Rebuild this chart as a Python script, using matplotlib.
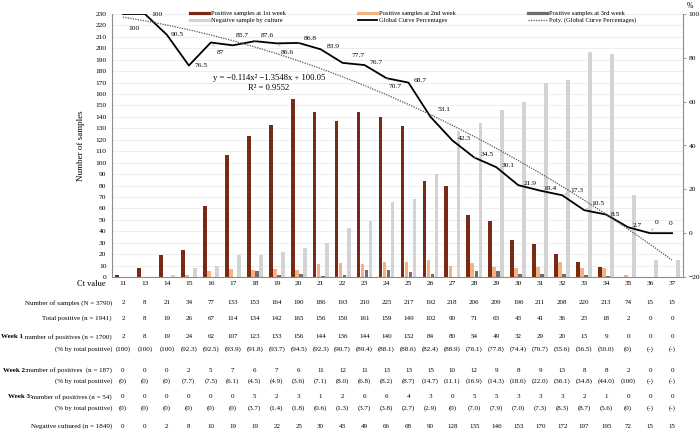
import numpy as np
import matplotlib.pyplot as plt
import matplotlib.transforms as mtransforms
from matplotlib.lines import Line2D

plt.rcParams['font.family'] = ['Liberation Serif', 'DejaVu Serif']

ct = [11, 13, 14, 15, 16, 17, 18, 19, 20, 21, 22, 23, 24, 25, 26, 27, 28, 29,
      30, 31, 32, 33, 34, 35, 36, 37]
n_samples = [2, 8, 21, 34, 77, 133, 153, 164, 190, 186, 193, 210, 225, 217,
             192, 218, 206, 209, 196, 211, 208, 220, 213, 74, 15, 15]
total_pos = [2, 8, 19, 26, 67, 114, 134, 142, 165, 156, 150, 161, 159, 149,
             102, 90, 71, 63, 43, 41, 36, 23, 18, 2, 0, 0]
week1 = [2, 8, 19, 24, 62, 107, 123, 133, 156, 144, 136, 144, 140, 132, 84,
         80, 54, 49, 32, 29, 20, 13, 9, 0, 0, 0]
week1_pct = ['(100)', '(100)', '(100)', '(92.3)', '(92.5)', '(93.9)', '(91.8)',
             '(93.7)', '(94.5)', '(92.3)', '(90.7)', '(89.4)', '(88.1)', '(88.6)',
             '(82.4)', '(88.9)', '(76.1)', '(77.8)', '(74.4)', '(70.7)', '(55.6)',
             '(56.5)', '(50.0)', '(0)', '(-)', '(-)']
week2 = [0, 0, 0, 2, 5, 7, 6, 7, 6, 11, 12, 11, 13, 13, 15, 10, 12, 9, 8, 9,
         13, 8, 8, 2, 0, 0]
week2_pct = ['(0)', '(0)', '(0)', '(7.7)', '(7.5)', '(6.1)', '(4.5)', '(4.9)',
             '(3.6)', '(7.1)', '(8.0)', '(6.8)', '(8.2)', '(8.7)', '(14.7)',
             '(11.1)', '(16.9)', '(14.3)', '(18.6)', '(22.0)', '(36.1)', '(34.8)',
             '(44.0)', '(100)', '(-)', '(-)']
week3 = [0, 0, 0, 0, 0, 0, 5, 2, 3, 1, 2, 6, 6, 4, 3, 0, 5, 5, 3, 3, 3, 2, 1,
         0, 0, 0]
week3_pct = ['(0)', '(0)', '(0)', '(0)', '(0)', '(0)', '(3.7)', '(1.4)', '(1.8)',
             '(0.6)', '(1.3)', '(3.7)', '(3.8)', '(2.7)', '(2.9)', '(0)', '(7.0)',
             '(7.9)', '(7.0)', '(7.3)', '(8.3)', '(8.7)', '(5.6)', '(0)', '(-)', '(-)']
negative = [0, 0, 2, 8, 10, 19, 19, 22, 25, 30, 43, 49, 66, 68, 90, 128, 135,
            146, 153, 170, 172, 197, 195, 72, 15, 15]
global_pct = [100, 100, 90.5, 76.5, 87, 85.7, 87.6, 86.6, 86.8, 83.9, 77.7,
              76.7, 70.7, 68.7, 53.1, 42.3, 34.5, 30.1, 21.9, 19.4, 17.3, 10.5,
              8.5, 2.7, 0, 0]

brown = '#7a2a14'
orange = '#f4b183'
dgray = '#6e6e6e'
lgray = '#d3d3d3'

W, H = 700, 434
fig = plt.figure(figsize=(W / 100, H / 100), dpi=100)
ax = fig.add_axes([112 / W, 1 - 277 / H, 571 / W, 263 / H])

x = np.arange(len(ct))
bw = 0.17
ax.bar(x - 0.275, week1, bw, color=brown)
ax.bar(x - 0.092, week2, bw, color=orange)
ax.bar(x + 0.092, week3, bw, color=dgray)
ax.bar(x + 0.275, negative, bw, color=lgray)

ax.set_xlim(-0.5, len(ct) - 0.5)
ax.set_ylim(0, 230)
ax.set_yticks(range(0, 231, 10))
ax.set_xticks(x)
ax.set_xticklabels(ct)
ax.tick_params(axis='y', length=0, pad=4, labelsize=5.4)
ax.tick_params(axis='x', length=0, pad=3, labelsize=5.4)
ax.grid(axis='y', color='#ebebeb', lw=0.6)
ax.set_axisbelow(True)
ax.set_ylabel('Number of samples', fontsize=6.5)
ax.yaxis.set_label_coords(-0.047, 0.5)
for s in ['top', 'right']:
    ax.spines[s].set_visible(False)
for s in ['left', 'bottom']:
    ax.spines[s].set_color('#8c8c8c')
    ax.spines[s].set_linewidth(0.8)

# right axis: percentages
ax2 = ax.twinx()
ax2.set_ylim(-20, 100)
ax2.set_yticks(range(-20, 101, 20))
ax2.tick_params(axis='y', length=2.5, width=0.6, pad=1.5, labelsize=5.4,
                color='#8c8c8c')
for s in ['top', 'left', 'bottom']:
    ax2.spines[s].set_visible(False)
ax2.spines['right'].set_color('#8c8c8c')
ax2.spines['right'].set_linewidth(0.8)

ax2.plot(x, global_pct, color='black', lw=1.3)
coef = np.polyfit(x + 1, global_pct, 2)
ax2.plot(x, np.polyval(coef, x + 1), color='#555555', lw=0.9, ls=(0, (1, 1)))

# data labels (offsets in pixels)
offs = [(11, -14), (12, 0), (10, 0), (12, 0), (10, -10), (10, 10), (13, 6),
        (11, -9), (12, 4), (13, 3), (15, 7), (12, 3), (9, -8), (12, 2),
        (14, 7), (12, 2), (13, 3), (12, 2), (12, 2), (10, 2), (15, 5),
        (14, 7), (9, 0), (9, 2), (7, 11), (-1, 10)]
leaders = {4, 6, 7, 8, 12, 14, 16, 20, 21, 24}
for i, v in enumerate(global_pct):
    ap = None
    if i in leaders:
        ap = dict(arrowstyle='-', color='#9a9a9a', lw=0.5, shrinkA=1, shrinkB=2)
    ax2.annotate('{:g}'.format(v), (x[i], v), xytext=offs[i],
                 textcoords='offset pixels', ha='center', va='center',
                 fontsize=5.4, arrowprops=ap)

ax2.text(0.275, 0.757, 'y = \u22120.114x\u00b2 \u22121.3548x + 100.05',
         transform=ax2.transAxes, ha='center', va='center', fontsize=6.2)
ax2.text(0.275, 0.719, 'R\u00b2 = 0.9552', transform=ax2.transAxes,
         ha='center', va='center', fontsize=6.2)

handles = [Line2D([], [], color=brown, lw=2.3),
           Line2D([], [], color=lgray, lw=2.3),
           Line2D([], [], color=orange, lw=2.3),
           Line2D([], [], color='black', lw=1.3),
           Line2D([], [], color=dgray, lw=2.3),
           Line2D([], [], color='#555555', lw=0.9, ls=(0, (1, 1)))]
labels = ['Positive samples at 1st week', 'Negative sample by culture',
          'Positive samples at 2nd week', 'Global Curve Percentages',
          'Positive samples at 3rd week', 'Poly. (Global Curve Percentages)']
ax2.legend(handles, labels, ncol=3, loc='upper left',
           bbox_to_anchor=(0.137, 1.012, 0.781, 0), mode='expand',
           frameon=False, fontsize=4.7, handlelength=2.9, handletextpad=0.3,
           labelspacing=0.15, borderpad=0, borderaxespad=0)

fig.text(690 / W, 1 - 6 / H, '%', ha='center', va='center', fontsize=5.5)

# table below the chart
trans = mtransforms.blended_transform_factory(ax.transData, fig.transFigure)
fig.text(106 / W, 1 - 284 / H, 'Ct value', ha='right', va='center',
         fontsize=6)

rows = [
    (None, 'Number of samples (N = 3790)', n_samples, 303),
    (None, 'Total positive (n = 1941)', total_pos, 318),
    ('Week 1', ': number of positives (n = 1700)', week1, 337),
    (None, '(% by total positive)', week1_pct, 349),
    ('Week 2:', ' number of positives  (n = 187)', week2, 370),
    (None, '(% by total positive)', week2_pct, 381),
    ('Week 3:', ' number of positives (n = 54)', week3, 397),
    (None, '(% by total positive)', week3_pct, 408),
    (None, 'Negative cultured (n = 1849)', negative, 426),
]
for bold, label, vals, ypix in rows:
    yf = 1 - ypix / H
    t = fig.text(112 / W, yf, label, ha='right', va='center', fontsize=5)
    if bold:
        ax.annotate(bold, xy=(0, 0.5), xycoords=t, xytext=(2, 0),
                    textcoords='offset pixels', ha='right', va='center',
                    fontsize=5, fontweight='bold', annotation_clip=False)
    for xi, v in zip(x, vals):
        ax.text(xi, yf, str(v), transform=trans, ha='center', va='center',
                fontsize=5, clip_on=False)

fig.savefig('out.png', dpi=100)
